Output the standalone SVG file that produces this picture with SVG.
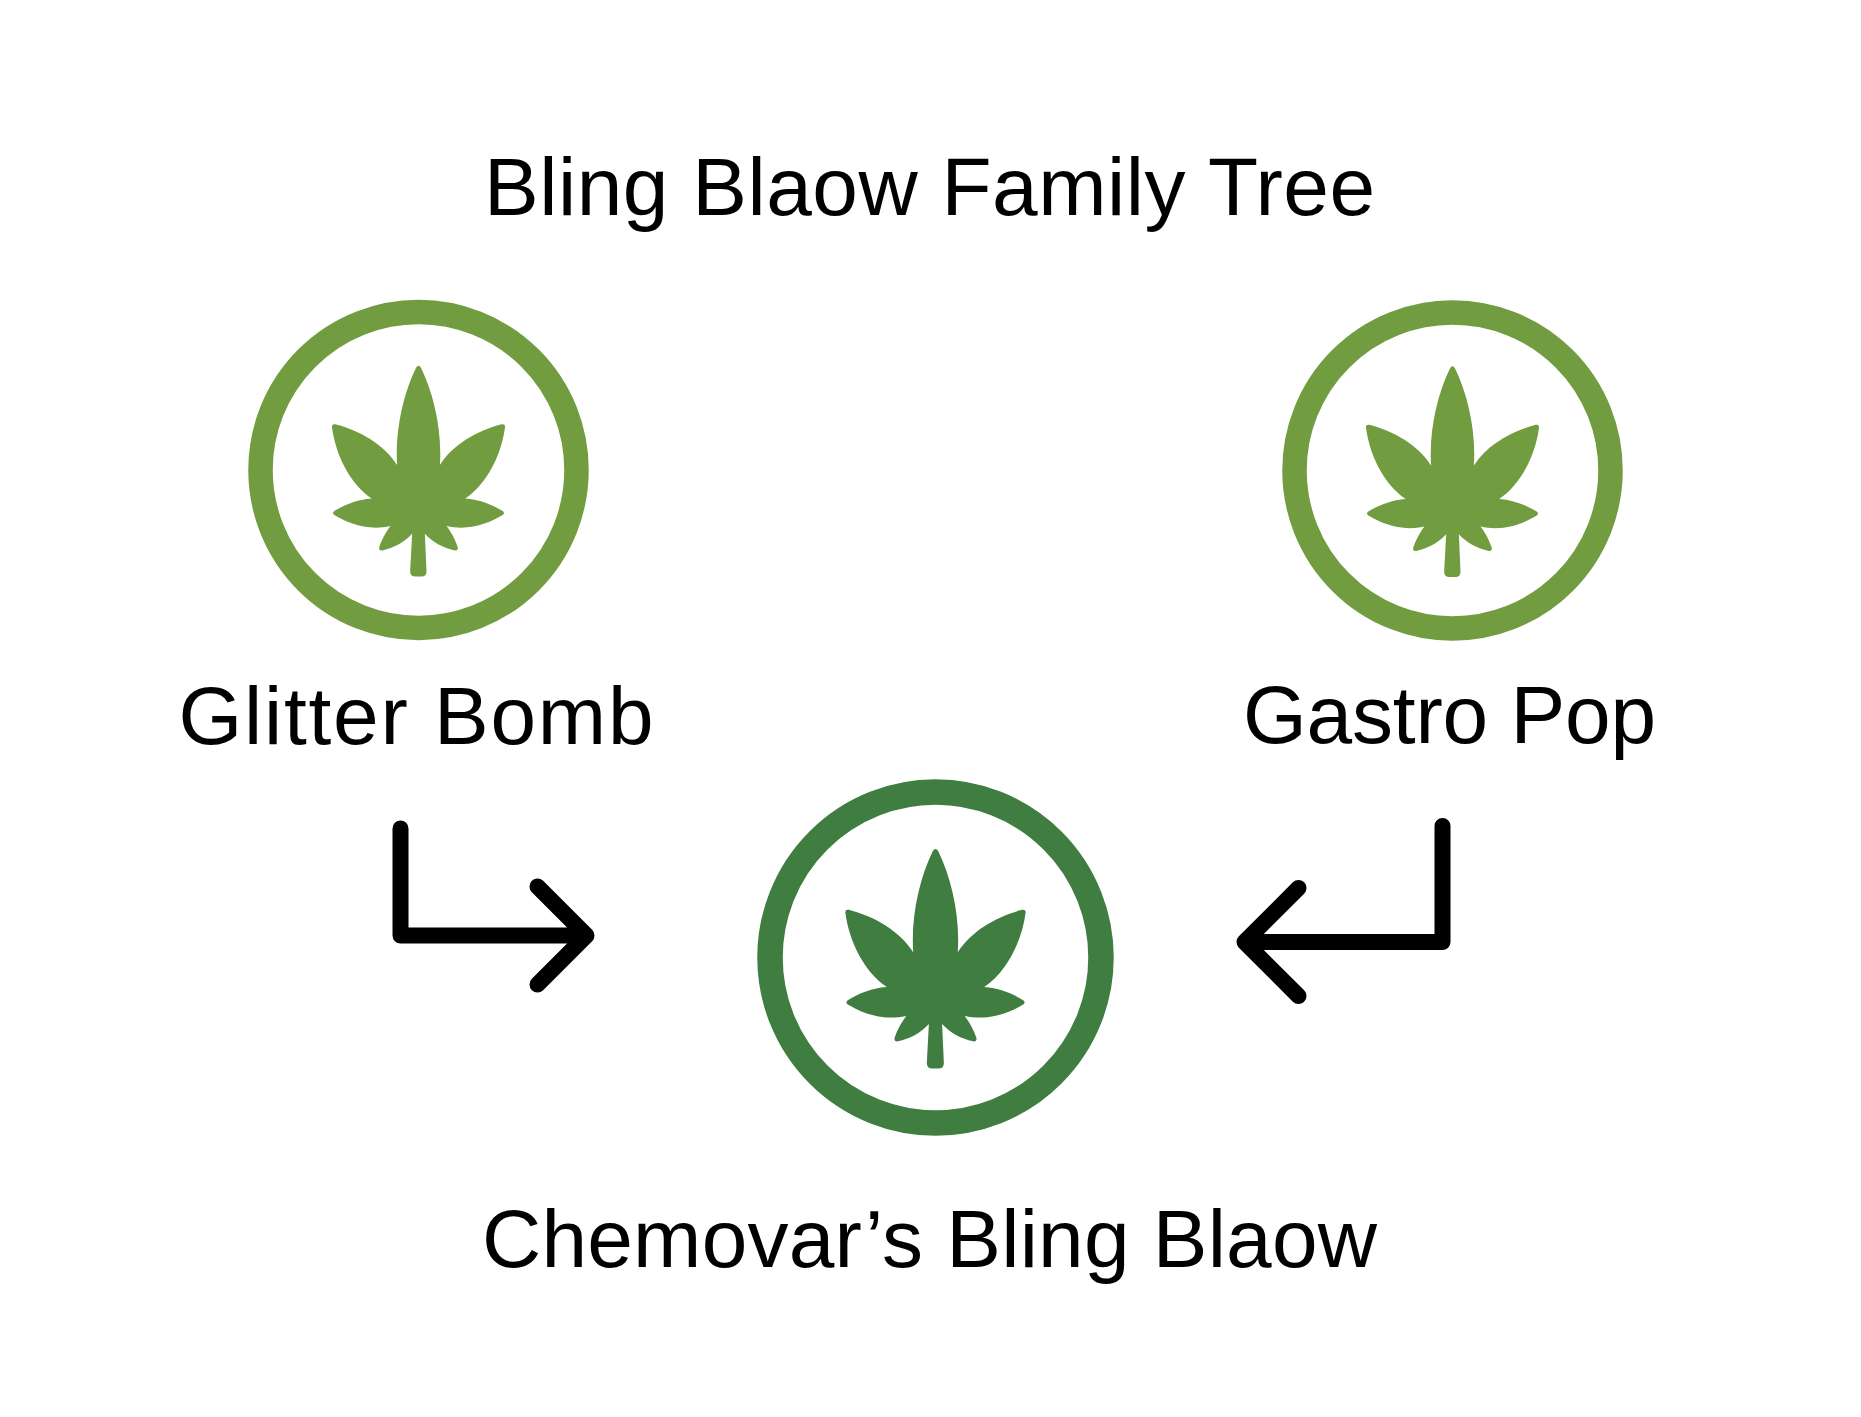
<svg xmlns="http://www.w3.org/2000/svg" xmlns:xlink="http://www.w3.org/1999/xlink" width="1861" height="1417" viewBox="0 0 1861 1417">
<style>
text{font-family:"Liberation Sans",Arial,sans-serif;font-size:82px;fill:#000}
.ring{fill:#fff;stroke-width:24.5}
.a{fill:none;stroke:#000;stroke-width:16;stroke-linecap:round;stroke-linejoin:round}
</style>
<defs>
<path id="leaf" d="M502 552C495 450 520 340 558 262Q566 248 574 262C612 340 637 450 630 552C670 490 740 450 815 430Q826 428 825 438C815 520 770 610 706 652C750 655 790 672 818 690Q826 696 818 702C780 725 720 750 650 735C665 755 678 780 684 800Q684 810 674 808C640 800 610 785 585 758L590 870Q590 886 575 886L557 886Q541 886 541 870L547 758C522 785 492 800 458 808Q448 810 448 800C454 780 467 755 482 735C412 750 352 725 314 702Q306 696 314 690C342 672 382 655 426 652C362 610 317 520 307 438Q306 428 317 430C392 450 462 490 502 552Z"/>
</defs>
<rect width="1861" height="1417" fill="#fff"/>
<g id="title"><text x="484" y="214.5" textLength="891" lengthAdjust="spacing">Bling Blaow Family Tree</text></g>
<g id="glitter-bomb" fill="#719c40">
<circle class="ring" cx="418.5" cy="470" r="158" stroke="#719c40"/>
<use xlink:href="#leaf" href="#leaf" transform="translate(418.5 470) scale(.334) translate(-566 -567)"/>
<text x="178.5" y="743.5" textLength="475" lengthAdjust="spacing">Glitter Bomb</text>
</g>
<g id="gastro-pop" fill="#719c40">
<circle class="ring" cx="1452.5" cy="470.5" r="158" stroke="#719c40"/>
<use xlink:href="#leaf" href="#leaf" transform="translate(1452.5 470.5) scale(.334) translate(-566 -567)"/>
<text x="1243" y="743" textLength="413" lengthAdjust="spacing">Gastro Pop</text>
</g>
<g id="bling-blaow" fill="#3f7d40">
<circle class="ring" cx="939.5" cy="963" r="165.5" stroke="#3f7d40" style="stroke-width:25.5" transform="translate(-4 -5.5)"/>
<use xlink:href="#leaf" href="#leaf" transform="translate(935.5 957.5) scale(.348) translate(-566 -567)"/>
<text x="482" y="1267" textLength="895" lengthAdjust="spacing">Chemovar’s Bling Blaow</text>
</g>
<g id="connectors">
<path class="a" d="M403 832V939H589M540 890L589 939L540 988" transform="translate(-2.5 -3.5)"/>
<path class="a" d="M1449 832V948H1251M1305 894L1251 948L1305 1002" transform="translate(-6.5 -6)"/>
</g>
</svg>
